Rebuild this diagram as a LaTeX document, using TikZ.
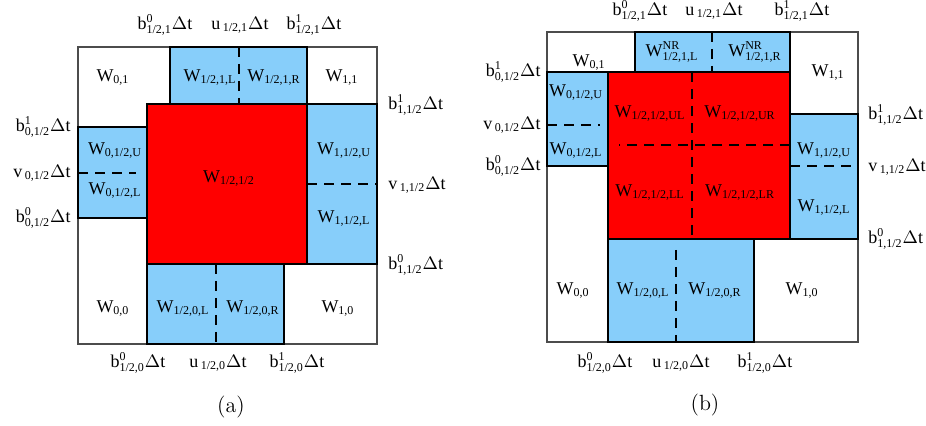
\documentclass[tikz,border=0pt]{standalone}
\usepackage{amsmath}
\usepackage{fontspec}
\newfontfamily\tms{Liberation Serif}
\usetikzlibrary{positioning}
\definecolor{cellblue}{RGB}{135,206,250}
\newcommand\tx[1]{\text{\tms #1}}
\newcommand\Wc[1]{$\tx{W}_{\tx{#1}}$}
\newcommand\Wnr[1]{$\tx{W}^{\tx{NR}}_{\tx{#1}}$}
\newcommand\bdt[3]{$\tx{#1}^{\tx{#2}}_{\tx{#3}}\Delta\tx{t}$}
\newcommand\vdt[2]{$\tx{#1}_{\,\tx{#2}}\Delta\tx{t}$}

\begin{document}
\begin{tikzpicture}[x=0.5pt,y=-0.5pt,
  font=\fontsize{9}{11}\selectfont,
  frame/.style={draw=black!70,line width=0.6pt,fill=white},
  cell/.style={draw=black,line width=0.6pt},
  cut/.style={line width=0.8pt,dash pattern=on 5pt off 3.5pt},
  wl/.style={anchor=base,inner sep=0pt},
  tl/.style={anchor=base,inner sep=0pt},
  ll/.style={anchor=base east,inner sep=0pt},
  rl/.style={anchor=base west,inner sep=0pt},
  subcap/.style={anchor=base,inner sep=0pt,font=\fontsize{11}{13}\selectfont}]
  \useasboundingbox (0,0) rectangle (926,426);

  % (a) cells
  \draw[frame] (78,47) rectangle (377,344);
  \draw[cell,fill=cellblue] (170,47) rectangle (307,104);
  \draw[cell,fill=cellblue] (78,127) rectangle (147,218);
  \draw[cell,fill=cellblue] (307,104) rectangle (377,264);
  \draw[cell,fill=cellblue] (147,264) rectangle (284,344);
  \draw[cell,fill=red] (147,104) rectangle (307,264);
  \draw[cut] (239,47) -- (239,104);
  \draw[cut] (78,173) -- (136,173);
  \draw[cut] (307,184) -- (377,184);
  \draw[cut] (216,264) -- (216,344);

  \node[wl] (a01)  at (113,82)  {\Wc{0,1}};
  \node[wl] (a1L)  at (210,82)  {\Wc{1/2,1,L}};
  \node[wl] (a1R)  at (274,82)  {\Wc{1/2,1,R}};
  \node[wl] (a11)  at (342,82)  {\Wc{1,1}};
  \node[wl] (a0U)  at (115,155) {\Wc{0,1/2,U}};
  \node[wl] (a0L)  at (115,195) {\Wc{0,1/2,L}};
  \node[wl] (amid) at (229,183) {\Wc{1/2,1/2}};
  \node[wl] (a1U)  at (344,155) {\Wc{1,1/2,U}};
  \node[wl] (a1Lo) at (344,223) {\Wc{1,1/2,L}};
  \node[wl] (a00)  at (113,313) {\Wc{0,0}};
  \node[wl] (a0bL) at (183,313) {\Wc{1/2,0,L}};
  \node[wl] (a0bR) at (253,313) {\Wc{1/2,0,R}};
  \node[wl] (a10)  at (338,313) {\Wc{1,0}};

  \node[tl] (atb0) at (165,30)  {\bdt{b}{0}{1/2,1}};
  \node[tl] (atu)  at (240,30)  {\vdt{u}{1/2,1}};
  \node[tl] (atb1) at (314,30)  {\bdt{b}{1}{1/2,1}};
  \node[ll] (alb1) at (71,132)  {\bdt{b}{1}{0,1/2}};
  \node[ll] (alv)  at (71,178)  {\vdt{v}{0,1/2}};
  \node[ll] (alb0) at (71,223)  {\bdt{b}{0}{0,1/2}};
  \node[rl] (arb1) at (388,110) {\bdt{b}{1}{1,1/2}};
  \node[rl] (arv)  at (388,190) {\vdt{v}{1,1/2}};
  \node[rl] (arb0) at (388,270) {\bdt{b}{0}{1,1/2}};
  \node[tl] (abb0) at (138,368) {\bdt{b}{0}{1/2,0}};
  \node[tl] (abu)  at (218,368) {\vdt{u}{1/2,0}};
  \node[tl] (abb1) at (297,368) {\bdt{b}{1}{1/2,0}};
  \node[subcap] (capa) at (231,413) {(a)};

  % (b) cells
  \draw[frame] (547,32) rectangle (858,342);
  \draw[cell,fill=cellblue] (635,32) rectangle (790,72);
  \draw[cell,fill=cellblue] (547,72) rectangle (608,166);
  \draw[cell,fill=cellblue] (790,114) rectangle (858,239);
  \draw[cell,fill=cellblue] (608,239) rectangle (754,342);
  \draw[cell,fill=red] (608,72) rectangle (790,239);
  \draw[cut] (712,32) -- (712,72);
  \draw[cut] (547,125) -- (600,125);
  \draw[cut] (692,72) -- (692,239);
  \draw[cut] (790,145) -- (619,145);
  \draw[cut] (790,166) -- (858,166);
  \draw[cut] (676,250) -- (676,342);

  \node[wl] (b01)  at (589,67)  {\Wc{0,1}};
  \node[wl] (b1L)  at (672,57)  {\Wnr{1/2,1,L}};
  \node[wl] (b1R)  at (755,57)  {\Wnr{1/2,1,R}};
  \node[wl] (b11)  at (828,77)  {\Wc{1,1}};
  \node[wl] (b0U)  at (576,97)  {\Wc{0,1/2,U}};
  \node[wl] (b0L)  at (576,155) {\Wc{0,1/2,L}};
  \node[wl] (bUL)  at (650,118) {\Wc{1/2,1/2,UL}};
  \node[wl] (bUR)  at (740,118) {\Wc{1/2,1/2,UR}};
  \node[wl] (bLL)  at (650,197) {\Wc{1/2,1/2,LL}};
  \node[wl] (bLR)  at (740,197) {\Wc{1/2,1/2,LR}};
  \node[wl] (b1U)  at (824,155) {\Wc{1,1/2,U}};
  \node[wl] (b1Lo) at (824,212) {\Wc{1,1/2,L}};
  \node[wl] (b00)  at (573,295) {\Wc{0,0}};
  \node[wl] (b0bL) at (643,295) {\Wc{1/2,0,L}};
  \node[wl] (b0bR) at (715,295) {\Wc{1/2,0,R}};
  \node[wl] (b10)  at (802,295) {\Wc{1,0}};

  \node[tl] (btb0) at (640,16)  {\bdt{b}{0}{1/2,1}};
  \node[tl] (btu)  at (714,16)  {\vdt{u}{1/2,1}};
  \node[tl] (btb1) at (802,16)  {\bdt{b}{1}{1/2,1}};
  \node[ll] (blb1) at (541,77)  {\bdt{b}{1}{0,1/2}};
  \node[ll] (blv)  at (541,130) {\vdt{v}{0,1/2}};
  \node[ll] (blb0) at (541,171) {\bdt{b}{0}{0,1/2}};
  \node[rl] (brb1) at (868,120) {\bdt{b}{1}{1,1/2}};
  \node[rl] (brv)  at (868,172) {\vdt{v}{1,1/2}};
  \node[rl] (brb0) at (868,244) {\bdt{b}{0}{1,1/2}};
  \node[tl] (bbb0) at (605,368) {\bdt{b}{0}{1/2,0}};
  \node[tl] (bbu)  at (681,368) {\vdt{u}{1/2,0}};
  \node[tl] (bbb1) at (765,368) {\bdt{b}{1}{1/2,0}};
  \node[subcap] (capb) at (705,411) {(b)};
\end{tikzpicture}
\end{document}
